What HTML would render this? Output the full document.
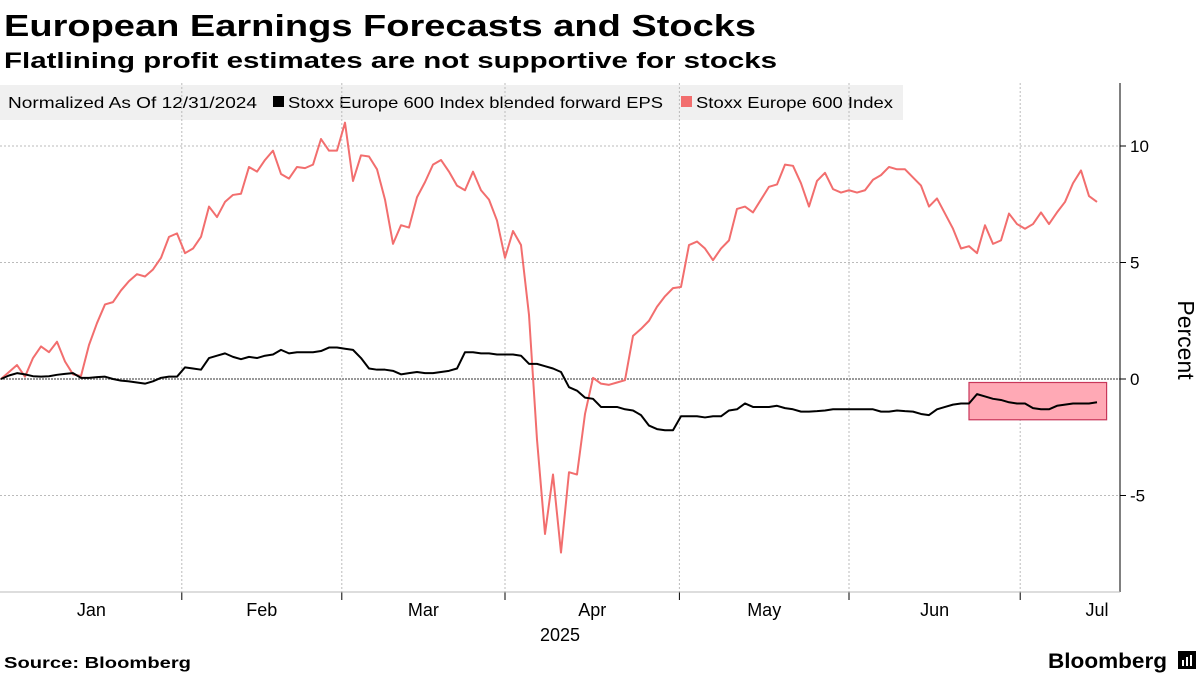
<!DOCTYPE html>
<html><head><meta charset="utf-8">
<style>
body{margin:0;background:#fff;width:1200px;height:675px;overflow:hidden;font-family:"Liberation Sans",sans-serif}
svg{display:block}
</style></head>
<body>
<svg id="chart" width="1200" height="675">
<text x="4" y="36" font-size="31" font-weight="bold" fill="#000" textLength="752" lengthAdjust="spacingAndGlyphs">European Earnings Forecasts and Stocks</text>
<text x="4" y="68" font-size="22" font-weight="bold" fill="#000" textLength="773" lengthAdjust="spacingAndGlyphs">Flatlining profit estimates are not supportive for stocks</text>
<g>
<rect x="0" y="85" width="903" height="35" fill="#f0f0f0"/>
<text x="8" y="108" font-size="16" fill="#000" textLength="249" lengthAdjust="spacingAndGlyphs">Normalized As Of 12/31/2024</text>
<rect x="273" y="96" width="11" height="11" fill="#000"/>
<text x="288" y="108" font-size="16" fill="#000" textLength="375" lengthAdjust="spacingAndGlyphs">Stoxx Europe 600 Index blended forward EPS</text>
<rect x="681" y="96" width="11" height="11" fill="#f26e6e"/>
<text x="696" y="108" font-size="16" fill="#000" textLength="197" lengthAdjust="spacingAndGlyphs">Stoxx Europe 600 Index</text>
</g>
<g id="grid"></g>
<g id="marks"></g>
<g id="axes"></g>
<text x="4" y="668" font-size="16" font-weight="bold" fill="#000" textLength="187" lengthAdjust="spacingAndGlyphs">Source: Bloomberg</text>
<text x="1048" y="668" font-size="21" font-weight="bold" fill="#000" textLength="119" lengthAdjust="spacingAndGlyphs">Bloomberg</text>
<rect x="1178" y="651" width="18" height="18" fill="#000"/>
<rect x="1182" y="660" width="2" height="6" fill="#fff"/>
<rect x="1186" y="657" width="2" height="9" fill="#fff"/>
<rect x="1190" y="655" width="2" height="11" fill="#fff"/>
</svg>
<script>
const stoxxIndex=[0,0.3,0.6,0.1,0.9,1.4,1.15,1.6,0.75,0.2,0.13,1.46,2.4,3.2,3.3,3.8,4.2,4.5,4.4,4.7,5.2,6.1,6.25,5.4,5.6,6.1,7.4,6.95,7.6,7.9,7.95,9.1,8.9,9.4,9.8,8.8,8.6,9.1,9.05,9.2,10.3,9.8,9.8,11.0,8.5,9.6,9.55,9.0,7.7,5.8,6.6,6.5,7.8,8.45,9.2,9.4,8.9,8.3,8.1,8.9,8.1,7.7,6.8,5.2,6.35,5.75,2.75,-2.6,-6.65,-4.1,-7.45,-4.0,-4.1,-1.5,0.05,-0.2,-0.25,-0.15,-0.05,1.85,2.15,2.5,3.1,3.55,3.9,3.95,5.75,5.9,5.6,5.1,5.6,5.95,7.3,7.4,7.15,7.7,8.25,8.35,9.2,9.15,8.4,7.4,8.5,8.85,8.15,8.0,8.1,8.0,8.1,8.55,8.75,9.1,9.0,9.0,8.65,8.3,7.4,7.75,7.1,6.45,5.6,5.7,5.4,6.6,5.8,5.95,7.1,6.65,6.45,6.65,7.15,6.65,7.15,7.6,8.4,8.95,7.85,7.6];
const forwardEps=[0,0.15,0.25,0.2,0.12,0.1,0.12,0.18,0.22,0.25,0.05,0.05,0.08,0.1,0,-0.07,-0.1,-0.15,-0.2,-0.1,0.05,0.1,0.1,0.5,0.45,0.4,0.9,1.0,1.1,0.95,0.85,0.95,0.9,1.0,1.05,1.25,1.1,1.15,1.15,1.15,1.2,1.35,1.35,1.3,1.25,0.9,0.45,0.4,0.4,0.35,0.2,0.25,0.3,0.25,0.25,0.3,0.35,0.45,1.15,1.15,1.1,1.1,1.05,1.05,1.05,1.0,0.65,0.65,0.55,0.45,0.3,-0.35,-0.5,-0.8,-0.85,-1.2,-1.2,-1.2,-1.3,-1.35,-1.55,-2.0,-2.15,-2.2,-2.2,-1.6,-1.6,-1.6,-1.65,-1.6,-1.6,-1.35,-1.3,-1.05,-1.2,-1.2,-1.2,-1.15,-1.25,-1.3,-1.4,-1.4,-1.38,-1.35,-1.3,-1.3,-1.3,-1.3,-1.3,-1.3,-1.4,-1.4,-1.35,-1.38,-1.4,-1.5,-1.55,-1.3,-1.2,-1.1,-1.05,-1.05,-0.65,-0.75,-0.85,-0.9,-1.0,-1.05,-1.05,-1.25,-1.3,-1.3,-1.15,-1.1,-1.05,-1.05,-1.05,-1.0];
const yTicks=[10,5,0,-5];
const yTickLabels=["10","5","0","-5"];
const monthLabels=["Jan","Feb","Mar","Apr","May","Jun","Jul"];
const monthStarts=[0,22.6,42.6,63,84.8,106,127.4,137.5];
const highlightRange=[121,138.2,-0.15,-1.75];

const NS="http://www.w3.org/2000/svg";
const plotL=0,plotR=1120,plotT=83,plotB=592;
const xs=i=>1+i*8.0;
const ys=v=>379-v*23.3;
function mk(tag,attrs,parent){const e=document.createElementNS(NS,tag);for(const k in attrs)e.setAttribute(k,attrs[k]);parent.appendChild(e);return e;}
const grid=document.getElementById('grid'),marks=document.getElementById('marks'),axes=document.getElementById('axes');

yTicks.forEach((t,k)=>{
  if(t!==0){const g=mk('line',{x1:plotL,x2:plotR,y1:ys(t),y2:ys(t),stroke:'#bbb','stroke-width':1,'stroke-dasharray':'2,2'},grid);
  
  }
  const tk=mk('line',{x1:plotR,x2:plotR+6,y1:ys(t),y2:ys(t),stroke:'#000'},axes);
  
  
  const tx=mk('text',{x:plotR+10,y:ys(t)+6,'font-size':17,fill:'#000'},axes);
  tx.textContent=yTickLabels[k];
  
  
});
for(let m=1;m<monthStarts.length-1;m++){
  const x=xs(monthStarts[m]);
  const g=mk('line',{x1:x,x2:x,y1:plotT,y2:plotB,stroke:'#bbb','stroke-width':1,'stroke-dasharray':'2,2'},grid);
  
  
  const tk=mk('line',{x1:x,x2:x,y1:plotB,y2:plotB+8,stroke:'#000'},axes);
  
  
}
monthLabels.forEach((lab,m)=>{
  let cx=(xs(monthStarts[m])+xs(monthStarts[m+1]))/2;
  if(m===monthLabels.length-1)cx=1097;
  const t=mk('text',{x:cx,y:616,'font-size':18,fill:'#000','text-anchor':'middle'},axes);
  t.textContent=lab;
  
  
});
const yr=mk('text',{x:560,y:641,'font-size':18,fill:'#000','text-anchor':'middle'},axes);
yr.textContent='2025';


const zl=mk('line',{x1:plotL,x2:plotR,y1:ys(0),y2:ys(0),stroke:'#999','stroke-width':2,'stroke-dasharray':'2,1'},grid);


const ya=mk('line',{x1:plotR,x2:plotR,y1:plotT,y2:plotB,stroke:'#000'},axes);


const xa=mk('line',{x1:plotL,x2:plotR,y1:plotB,y2:plotB,stroke:'#bbb'},axes);


const pt=mk('text',{x:0,y:0,'font-size':23,fill:'#000','text-anchor':'middle',transform:'translate(1178,340) rotate(90)'},axes);
pt.textContent='Percent';



const hl=mk('rect',{x:xs(highlightRange[0]),y:ys(highlightRange[2]),width:xs(highlightRange[1])-xs(highlightRange[0]),height:ys(highlightRange[3])-ys(highlightRange[2]),fill:'#ffa9b5',stroke:'#c8375a','stroke-width':1.2},marks);



const pr=mk('polyline',{points:stoxxIndex.map((v,i)=>xs(i)+','+ys(v)).join(' '),fill:'none',stroke:'#f26e6e','stroke-width':2,'stroke-linejoin':'round'},marks);


const pb=mk('polyline',{points:forwardEps.map((v,i)=>xs(i)+','+ys(v)).join(' '),fill:'none',stroke:'#000','stroke-width':2,'stroke-linejoin':'round'},marks);


</script>
</body></html>
